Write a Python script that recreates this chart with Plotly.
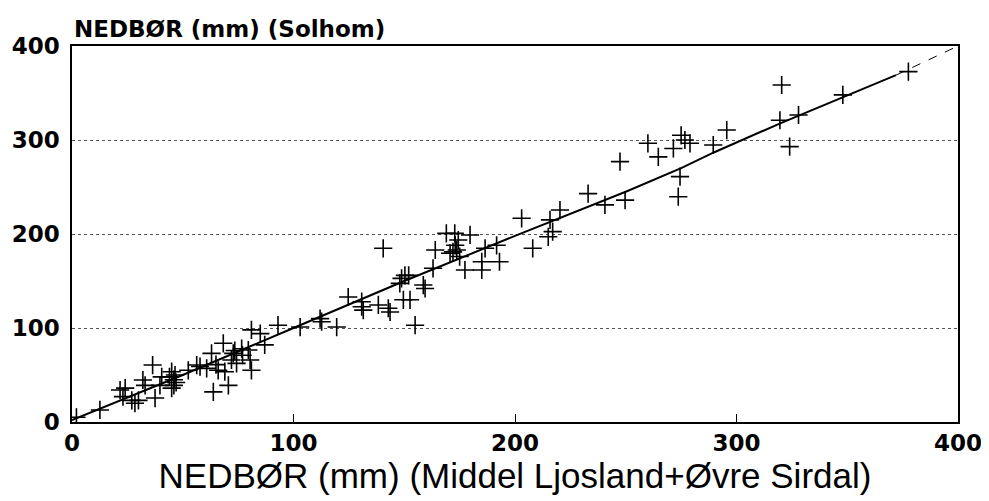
import plotly.graph_objects as go

# Scatter data: x = Middel Ljosland+Øvre Sirdal, y = Solhom (mm)
x_vals = [2, 12.6, 21.7, 24, 23, 27, 28.4, 30, 37.5, 36.4, 32, 33, 39.7, 40.5, 44, 45, 46.5, 45, 46, 47,
          46, 52.5, 56.3, 57.8, 60.8, 63, 63.8, 65, 66, 68.3, 69, 70.6, 72, 72.8, 73.5, 74.3, 76.6, 77,
          79.6, 80.4, 81, 81, 85, 87, 93, 103, 112, 112.7, 119.5, 124.7, 130.8, 130.8, 131.5, 138.3,
          142.8, 143.6, 140.5, 149.6, 152.6, 148, 148.8, 150.3, 152, 154.9, 158.6, 159.4, 163, 164,
          169, 172.8, 170.7, 172, 173.7, 173, 174.4, 175, 179.7, 177.4, 185, 185, 186.5, 191.7, 193,
          208, 215, 217, 215.8, 203, 220.3, 233, 240.6, 247.4, 249.7, 260, 264.7, 271.5, 274.5, 273.7,
          275, 276.7, 279, 289.5, 295.6, 320.4, 319.6, 328, 324, 348, 377.6]
y_vals = [5, 12.8, 34, 36, 27, 23, 20, 23, 25.5, 60.6, 44.7, 39, 39, 48, 48, 53.5, 50, 36, 39, 42,
          45, 55, 60.6, 59, 57, 73, 32, 61, 55, 83.7, 53.5, 39, 66, 73, 76, 62.4, 78, 71,
          76.6, 66, 98, 55, 94, 82, 103, 101, 110, 106.7, 101, 133, 128, 122.6, 119, 124.5,
          121, 117, 184.8, 130, 130, 147.5, 152.8, 156, 156, 103, 145.7, 142, 163.5, 183,
          200.7, 200.7, 179.5, 181, 183, 188, 193.6, 176, 199, 161.7, 170.5, 161.7, 184.8, 188, 170.5,
          184.8, 197, 202.5, 215, 216.7, 225.5, 243, 231, 277, 236, 296.5, 282, 291, 261, 239.7,
          305, 300, 296.5, 294.7, 310.6, 358.5, 321, 326.6, 293, 348, 372.7]

# Fitted (smoothed) line
fit_x_solid = [0, 50, 100, 150, 200, 250, 275, 290, 320, 350, 372]
fit_y_solid = [2, 50, 100, 150, 198, 245, 270, 287, 318, 347, 369]
fit_x_dash = [372, 400]
fit_y_dash = [369, 400]

x_ticks = [0, 100, 200, 300, 400]
y_ticks = [0, 100, 200, 300, 400]

tick_font = dict(size=23, family="DejaVu Sans", weight="bold", color="black")

fig = go.Figure()
fig.add_trace(go.Scatter(x=fit_x_solid, y=fit_y_solid, mode="lines",
                         line=dict(color="black", width=2), showlegend=False))
fig.add_trace(go.Scatter(x=fit_x_dash, y=fit_y_dash, mode="lines",
                         line=dict(color="black", width=1, dash="dash"), showlegend=False))
fig.add_trace(go.Scatter(x=x_vals, y=y_vals, mode="markers",
                         marker=dict(symbol="cross-thin", size=13,
                                     line=dict(color="black", width=1.6)),
                         showlegend=False))

fig.update_layout(
    width=981, height=493,
    margin=dict(l=64, r=31, t=38, b=79),
    paper_bgcolor="white", plot_bgcolor="white",
    font=dict(family="Liberation Sans", color="black"),
    xaxis=dict(range=[0, 400], tickvals=x_ticks, showgrid=False, zeroline=False,
               showline=True, linecolor="black", linewidth=1.5, mirror=True,
               ticks="inside", ticklen=8, tickcolor="black", automargin=False,
               tickfont=tick_font,
               title=dict(text="NEDBØR (mm) (Middel Ljosland+Øvre Sirdal)",
                          font=dict(size=35, family="Liberation Sans"), standoff=2)),
    yaxis=dict(range=[0, 400], tickvals=y_ticks, showgrid=True,
               gridcolor="#555555", griddash="dot", gridwidth=1, zeroline=False,
               showline=True, linecolor="black", linewidth=1.5, mirror=True,
               ticks="", tickfont=tick_font, automargin=False,
               ticklabelstandoff=6),
    annotations=[dict(text="NEDBØR (mm) (Solhom)", xref="paper", yref="paper",
                      x=0, y=1, xanchor="left", yanchor="bottom", yshift=2, showarrow=False,
                      font=dict(size=23, family="DejaVu Sans", weight="bold"))],
)

fig.write_html("out.html")
